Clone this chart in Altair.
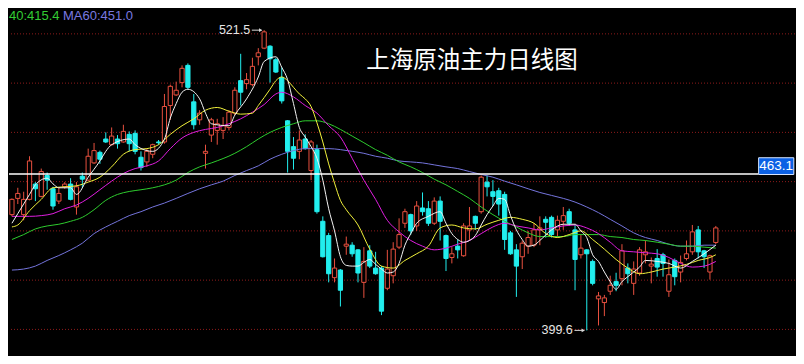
import altair as alt
import pandas as pd

# ---------------- data ----------------
opens = [446.6, 453.2, 446.6, 452.8, 459.0, 454.0, 462.5, 457.1, 452.1, 457.9,
         459.0, 449.7, 462.2, 460.6, 467.6, 471.9, 477.3, 475.0, 477.3, 476.1,
         479.2, 479.6, 469.9, 468.0, 471.1, 476.1, 476.1, 490.9, 495.2, 500.2,
         507.2, 492.4, 485.1, 471.5, 478.9, 480.8, 480.8, 482.0, 487.8, 501.0,
         499.8, 499.4, 510.7, 514.2, 515.0, 509.5, 502.2, 484.7, 474.2, 472.3,
         477.3, 464.5, 473.0, 443.9, 438.1, 421.0, 424.1, 433.8, 434.2, 432.3,
         419.1, 431.9, 424.9, 424.9, 416.7, 421.8, 433.4, 443.1, 446.6, 442.0,
         449.3, 449.0, 443.1, 452.1, 438.1, 429.2, 433.8, 429.9, 440.4, 445.9,
         447.8, 459.8, 455.9, 456.3, 454.8, 439.2, 432.3, 429.5, 433.8, 434.2,
         440.4, 444.7, 445.5, 440.4, 443.9, 447.8, 440.4, 430.3, 432.3, 427.6,
         412.4, 410.9, 415.5, 419.4, 420.6, 424.9, 418.7, 422.9, 430.3, 425.7,
         428.8, 430.3, 415.5, 428.0, 423.3, 428.8, 431.5, 440.4, 431.9, 423.3,
         435.3]
highs = [453.2, 457.5, 455.9, 470.3, 459.8, 465.3, 463.7, 457.9, 457.5, 459.8,
         461.4, 459.8, 463.7, 473.4, 475.7, 472.6, 480.0, 482.0, 478.9, 483.1,
         480.4, 480.8, 472.3, 473.4, 475.4, 476.9, 495.6, 499.4, 500.6, 507.2,
         508.0, 495.6, 489.0, 475.0, 485.9, 485.5, 486.2, 489.0, 498.3, 511.9,
         504.1, 510.3, 514.2, 521.5, 515.4, 510.3, 506.4, 485.0, 478.1, 480.8,
         479.2, 476.9, 475.0, 445.9, 439.2, 428.8, 424.5, 437.7, 435.4, 432.6,
         433.4, 434.2, 431.5, 425.7, 432.3, 435.4, 445.1, 449.0, 447.0, 452.1,
         455.6, 452.1, 453.6, 454.0, 438.5, 433.4, 436.5, 443.1, 449.7, 446.2,
         462.5, 462.5, 460.6, 457.5, 455.9, 440.0, 434.6, 436.1, 440.0, 443.1,
         445.9, 445.9, 446.2, 446.2, 449.7, 449.0, 442.4, 438.5, 432.6, 428.4,
         415.2, 414.0, 421.8, 423.0, 434.6, 426.8, 427.6, 433.4, 436.1, 429.2,
         432.6, 431.1, 428.4, 428.8, 430.0, 436.1, 442.4, 442.0, 432.3, 430.3,
         442.0]
lows = [445.9, 450.9, 444.3, 452.4, 452.1, 453.6, 456.7, 448.6, 450.9, 457.1,
        452.4, 446.6, 457.5, 460.2, 467.2, 467.2, 475.7, 474.7, 473.4, 475.8,
        472.3, 471.1, 464.5, 466.0, 469.5, 475.0, 475.4, 485.1, 494.8, 498.3,
        497.5, 481.2, 483.1, 465.3, 476.1, 475.0, 477.3, 480.8, 487.0, 490.9,
        497.5, 498.7, 507.2, 513.8, 500.2, 504.1, 491.7, 463.7, 464.9, 469.1,
        473.0, 460.6, 447.0, 429.2, 419.1, 419.1, 409.3, 430.3, 429.5, 419.1,
        412.8, 424.9, 422.2, 405.8, 415.9, 418.7, 432.6, 441.2, 438.5, 440.0,
        446.2, 442.0, 442.4, 436.1, 423.7, 426.8, 428.8, 429.5, 436.1, 440.4,
        447.0, 454.0, 450.1, 446.2, 432.3, 430.3, 413.2, 424.5, 430.7, 433.4,
        434.2, 437.3, 437.3, 437.3, 440.4, 442.0, 415.9, 428.8, 399.6, 417.9,
        401.6, 405.4, 414.0, 415.5, 417.9, 418.7, 414.0, 421.8, 426.8, 418.7,
        421.4, 421.4, 413.2, 417.9, 419.1, 428.0, 430.3, 428.8, 424.9, 420.2,
        434.6]
closes = [452.8, 455.2, 452.8, 468.4, 457.1, 464.1, 460.6, 450.1, 455.2, 459.0,
          452.8, 457.9, 461.0, 470.3, 472.6, 469.1, 476.1, 478.5, 475.4, 480.4,
          475.4, 472.3, 465.7, 472.3, 475.0, 475.8, 490.5, 498.7, 497.1, 506.0,
          498.3, 483.1, 487.8, 472.3, 485.1, 483.5, 482.7, 488.2, 497.1, 496.3,
          501.4, 506.8, 512.3, 520.8, 509.9, 504.5, 492.8, 472.3, 469.5, 476.9,
          473.4, 476.1, 447.8, 429.5, 422.6, 424.9, 415.9, 434.6, 430.7, 422.9,
          427.6, 425.7, 422.6, 407.4, 424.5, 432.6, 438.5, 447.8, 440.0, 450.1,
          447.8, 443.1, 452.1, 443.9, 428.8, 430.7, 432.3, 442.0, 442.0, 443.1,
          461.8, 457.9, 454.0, 450.9, 436.5, 430.7, 425.7, 435.0, 437.3, 440.4,
          441.2, 443.5, 438.5, 444.3, 446.2, 443.1, 428.4, 433.0, 430.7, 418.7,
          413.6, 412.8, 417.9, 417.9, 431.9, 422.6, 424.5, 432.3, 431.5, 426.5,
          425.3, 426.8, 422.2, 421.4, 427.2, 430.7, 439.6, 431.5, 429.5, 429.9,
          441.2]

ma5_idx = [0, 1, 3, 4, 6, 7, 8, 10, 11, 13, 15, 16, 17, 20, 21, 23, 24, 26, 27, 28,
           29, 30, 32, 33, 34, 37, 38, 40, 42, 43, 45, 46, 47, 48, 49, 50, 51, 52, 53,
           54, 55, 56, 57, 58, 59, 60, 61, 62, 63, 64, 65, 66, 67, 68, 69, 71, 73, 74,
           75, 76, 77, 78, 79, 80, 81, 82, 83, 84, 85, 86, 87, 88, 89, 90, 92, 94, 96,
           97, 98, 99, 100, 101, 102, 103, 104, 105, 106, 107, 108, 110, 112, 114,
           116, 118, 120]
ma5 = [443.1, 447.0, 454.8, 458.7, 461.4, 459.1, 457.5, 457.5, 454.8, 461.8,
       468.4, 472.3, 475.0, 477.3, 475.0, 472.6, 472.3, 477.3, 485.8, 491.7,
       496.3, 497.5, 493.6, 487.8, 483.5, 482.7, 487.0, 493.6, 502.5, 508.8,
       510.7, 506.4, 501.4, 491.7, 482.0, 478.1, 474.2, 469.5, 460.6, 449.0,
       440.0, 429.5, 426.0, 425.7, 425.7, 427.2, 428.4, 426.4, 424.5, 422.9,
       423.3, 426.8, 434.2, 438.9, 443.1, 445.9, 447.8, 443.1, 438.9, 436.5,
       435.4, 436.1, 438.1, 442.4, 446.6, 450.1, 453.2, 452.8, 446.2, 440.4,
       436.5, 433.8, 434.2, 436.1, 440.4, 442.7, 442.7, 440.0, 437.3, 430.3,
       427.6, 423.3, 419.4, 416.3, 419.4, 421.4, 423.3, 425.3, 428.0, 427.6,
       426.8, 424.9, 427.6, 430.7, 434.2]

ma10_idx = [0, 1, 3, 5, 7, 9, 11, 13, 15, 17, 19, 21, 23, 25, 27, 29, 31, 33, 35, 37,
            39, 41, 42, 44, 45, 46, 47, 48, 49, 50, 51, 52, 53, 54, 55, 56, 57, 59, 61,
            63, 65, 67, 69, 71, 73, 75, 77, 79, 81, 83, 85, 87, 89, 91, 93, 95, 97, 99,
            101, 103, 105, 107, 109, 111, 113, 115, 117, 119, 120]
ma10 = [441.6, 442.4, 448.2, 452.8, 457.5, 457.9, 458.3, 459.8, 461.8, 466.0,
        471.1, 473.0, 473.4, 475.0, 479.2, 482.7, 485.5, 489.0, 490.1, 488.6,
        487.4, 487.8, 490.9, 497.5, 501.0, 502.5, 501.0, 498.3, 495.6, 493.6,
        490.5, 483.9, 476.1, 467.2, 459.4, 452.4, 448.6, 442.4, 432.6, 425.7,
        424.9, 428.0, 430.7, 433.8, 441.2, 442.4, 441.2, 440.8, 442.7, 444.3,
        445.5, 444.7, 443.1, 438.9, 437.3, 438.5, 440.0, 436.5, 432.6, 428.4,
        424.9, 422.6, 423.3, 424.5, 425.3, 426.4, 428.0, 429.2, 430.3]

ma20_idx = [0, 3, 5, 7, 9, 11, 13, 15, 17, 19, 21, 23, 25, 27, 29, 31, 33, 35, 37, 39,
            41, 43, 45, 46, 48, 50, 52, 54, 56, 58, 60, 62, 64, 66, 68, 70, 72, 74, 76,
            78, 80, 82, 84, 86, 88, 90, 92, 94, 96, 98, 100, 102, 104, 106, 108, 110,
            112, 114, 116, 118, 120]
ma20 = [445.9, 445.9, 446.2, 447.0, 449.0, 450.5, 453.2, 456.7, 460.2, 463.3,
        465.3, 466.4, 468.4, 473.4, 477.7, 480.0, 481.2, 482.0, 483.5, 485.5,
        488.2, 491.3, 495.6, 496.3, 494.4, 490.9, 487.8, 482.7, 478.1, 469.5,
        460.6, 452.8, 444.3, 439.6, 436.1, 433.8, 432.3, 433.0, 434.6, 436.1,
        438.9, 441.6, 443.1, 442.0, 441.2, 440.4, 441.2, 442.0, 442.4, 441.2,
        438.9, 435.4, 431.9, 431.5, 431.1, 430.7, 429.2, 426.8, 425.3, 425.7,
        427.6]

ma40_idx = [0, 2, 4, 6, 8, 10, 12, 14, 16, 18, 20, 22, 24, 26, 28, 30, 32, 34, 38, 40,
            42, 44, 46, 48, 50, 52, 54, 56, 58, 60, 62, 64, 66, 68, 70, 72, 74, 76, 78,
            80, 82, 84, 86, 88, 90, 92, 94, 96, 98, 100, 102, 104, 106, 108, 110, 112,
            114, 116, 118, 120]
ma40 = [436.5, 438.5, 440.8, 442.0, 442.7, 443.9, 445.5, 448.6, 452.4, 454.8,
        456.0, 456.7, 457.5, 458.7, 460.6, 463.7, 466.0, 467.6, 471.5, 474.2,
        477.3, 480.0, 482.0, 483.5, 484.7, 484.7, 483.5, 481.2, 478.5, 475.8,
        473.0, 470.7, 468.0, 466.0, 463.7, 461.0, 458.7, 456.0, 453.2, 449.7,
        446.6, 443.9, 441.6, 439.2, 437.7, 437.7, 437.7, 438.5, 438.5, 438.5,
        437.7, 437.3, 436.5, 436.1, 435.4, 434.6, 433.8, 433.8, 433.4, 433.0]

ma60_idx = [0, 2, 4, 6, 8, 10, 12, 14, 16, 18, 20, 22, 24, 26, 28, 30, 32, 34, 36, 38,
            40, 42, 44, 46, 48, 50, 52, 54, 56, 58, 60, 62, 64, 66, 68, 70, 72, 74, 76,
            78, 80, 82, 84, 86, 88, 90, 92, 94, 96, 98, 100, 102, 104, 106, 108, 110,
            112, 114, 116, 118, 120]
ma60 = [424.1, 424.5, 425.7, 428.0, 430.0, 432.3, 435.0, 438.9, 441.6, 443.9,
        446.2, 447.8, 449.7, 451.3, 453.2, 455.2, 457.1, 458.7, 460.2, 462.5,
        464.5, 466.4, 469.1, 471.1, 472.6, 473.4, 473.4, 473.4, 473.0, 472.3,
        471.5, 470.3, 469.5, 468.4, 468.0, 467.6, 466.8, 466.0, 465.3, 464.1,
        462.9, 461.8, 460.2, 458.7, 457.1, 455.6, 454.4, 453.2, 451.7, 449.7,
        447.4, 444.7, 442.0, 439.2, 437.3, 436.1, 434.6, 433.8, 433.8, 434.2,
        434.2]

grid_prices = [400, 420, 440, 460, 480, 500, 520]
last_price = 463.1
title_text = "上海原油主力日线图"
legend_texts = ["40:415.4", "MA60:451.0"]

# ---------------- styles ----------------
RED = "#e8503f"
CYAN = "#22eeee"
W, H = 788, 348
xs = alt.Scale(domain=[-0.5, 133.5], nice=False, zero=False)
ys = alt.Scale(domain=[389.2, 530.5], nice=False, zero=False)
X = lambda f: alt.X(f, type="quantitative", scale=xs, axis=None)
Y = lambda f: alt.Y(f, type="quantitative", scale=ys, axis=None)

candles = pd.DataFrame({"idx": list(range(len(opens))), "open": opens, "high": highs,
                        "low": lows, "close": closes})
candles["dir"] = ["up" if c >= o else "down" for o, c in zip(opens, closes)]

dir_stroke = alt.Stroke("dir:N", scale=alt.Scale(domain=["up", "down"], range=[RED, CYAN]), legend=None)
dir_fill = alt.Fill("dir:N", scale=alt.Scale(domain=["up", "down"], range=["#000000", CYAN]), legend=None)

grid = alt.Chart(pd.DataFrame({"p": grid_prices})).mark_rule(
    color="#8e1b1b", strokeDash=[1, 2], strokeWidth=1).encode(y=Y("p"))

wicks = alt.Chart(candles).mark_rule(strokeWidth=1).encode(
    x=X("idx"), y=Y("low"), y2="high", stroke=dir_stroke)

bodies = alt.Chart(candles).transform_calculate(
    xl="datum.idx - 0.36", xr="datum.idx + 0.36").mark_rect(strokeWidth=1).encode(
    x=X("xl"), x2="xr", y=Y("open"), y2="close", fill=dir_fill, stroke=dir_stroke)


def ma_line(idx, vals, color):
    return alt.Chart(pd.DataFrame({"idx": idx, "v": vals})).mark_line(
        color=color, strokeWidth=1, interpolate="monotone").encode(x=X("idx"), y=Y("v"))


lines = [ma_line(ma60_idx, ma60, "#7474dc"),
         ma_line(ma40_idx, ma40, "#2ecc2e"),
         ma_line(ma20_idx, ma20, "#e01ee0"),
         ma_line(ma10_idx, ma10, "#f2f23c"),
         ma_line(ma5_idx, ma5, "#f4f4f4")]

# last price line and tag
lp = pd.DataFrame({"p": [last_price], "x0": [-0.5], "x1": [127.3], "b0": [127.3], "b1": [133.3],
                   "t": [f"{last_price:.1f}"]})
lp_rule = alt.Chart(lp).mark_rule(color="#ffffff", strokeWidth=1.6).encode(
    x=X("x0"), x2="x1", y=Y("p"))
lp_box = alt.Chart(lp).transform_calculate(
    top="datum.p + 6.6", bot="datum.p - 0.2").mark_rect(
    fill="#0b60e4", stroke="#d8e6ff", strokeWidth=1).encode(
    x=X("b0"), x2="b1", y=Y("top"), y2="bot")
lp_text = alt.Chart(lp).transform_calculate(
    xc="(datum.b0 + datum.b1) / 2", yc="datum.p + 3.2").mark_text(
    color="#ffffff", font="Liberation Sans", fontSize=13.5, baseline="middle").encode(
    x=X("xc"), y=Y("yc"), text="t:N")

# extreme labels
ext = pd.DataFrame({"idx": [43, 98], "p": [max(highs), min(lows)]})
ext["t"] = [f"{v:.1f}" for v in ext["p"]]
ext_text = alt.Chart(ext).mark_text(
    color="#e6e6e6", font="Liberation Sans", fontSize=12.5, align="right",
    baseline="middle", dx=-14).encode(x=X("idx"), y=Y("p"), text="t:N")
ext_arrow = alt.Chart(ext).transform_calculate(
    a0="datum.idx - 2.1", a1="datum.idx - 0.45").mark_rule(
    color="#d8d8d8", strokeWidth=1).encode(x=X("a0"), x2="a1", y=Y("p"))
ext_head = alt.Chart(ext).transform_calculate(a1="datum.idx - 0.6").mark_point(
    shape="triangle-right", filled=True, size=14, color="#d8d8d8", opacity=1).encode(
    x=X("a1"), y=Y("p"))

title = alt.Chart(pd.DataFrame({"t": [title_text]})).mark_text(
    color="#ffffff", font="Noto Sans CJK SC", fontSize=23.5, align="center",
    baseline="middle").encode(x=alt.value(463), y=alt.value(53), text="t:N")

leg1 = alt.Chart(pd.DataFrame({"t": [legend_texts[0]]})).mark_text(
    color="#33cc33", font="Liberation Sans", fontSize=13, align="left",
    baseline="middle").encode(x=alt.value(0), y=alt.value(8), text="t:N")
leg2 = alt.Chart(pd.DataFrame({"t": [legend_texts[1]]})).mark_text(
    color="#7a7ae0", font="Liberation Sans", fontSize=13, align="left",
    baseline="middle").encode(x=alt.value(54), y=alt.value(8), text="t:N")

chart = alt.layer(
    grid, wicks, bodies, *lines, lp_rule, lp_box, lp_text,
    ext_arrow, ext_head, ext_text, title, leg1, leg2
).properties(
    width=W, height=H, padding=0, background="#000000",
    autosize=alt.AutoSizeParams(type="fit", contains="padding")
).configure_view(stroke=None)

chart.save("out.html", embed_options={"renderer": "svg", "actions": False})
